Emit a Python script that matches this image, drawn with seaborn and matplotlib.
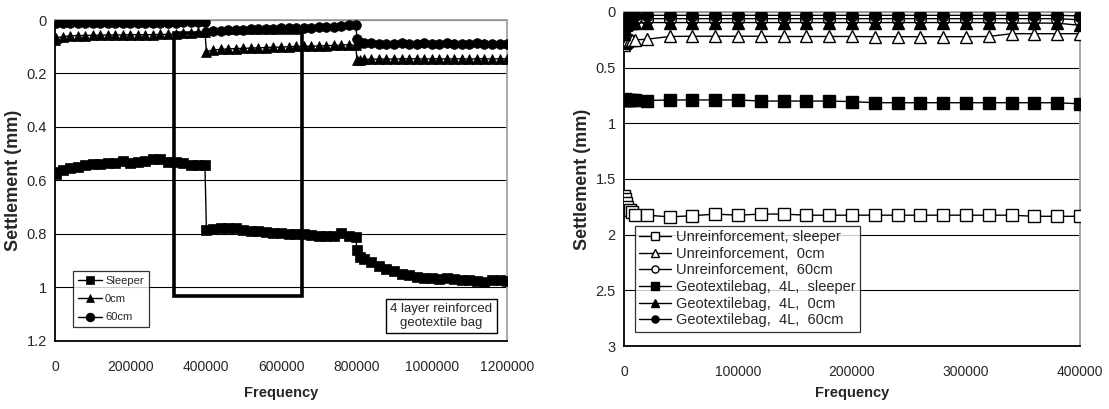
import numpy as np
import pandas as pd
import matplotlib
matplotlib.use("Agg")
import matplotlib.pyplot as plt
from matplotlib.patches import Rectangle
import seaborn as sns

# ---------------- left panel: 4 layer reinforced geotextile bag ----------------
freq_left = [
    0, 3000, 20000, 40000, 60000, 80000, 100000, 120000, 140000, 160000, 180000,
    200000, 220000, 240000, 260000, 280000, 300000, 320000, 340000, 360000, 380000, 398000,
    402000, 420000, 440000, 460000, 480000, 500000, 520000, 540000, 560000, 580000, 600000,
    620000, 640000, 660000, 680000, 700000, 720000, 740000, 760000, 780000, 798000,
    802000, 810000, 820000, 840000, 860000, 880000, 900000, 920000, 940000, 960000, 980000,
    1000000, 1020000, 1040000, 1060000, 1080000, 1100000, 1120000, 1140000, 1160000, 1180000, 1200000,
]
sleeper_left = [
    0.570, 0.575, 0.560, 0.552, 0.548, 0.543, 0.540, 0.537, 0.536, 0.534, 0.527,
    0.533, 0.530, 0.526, 0.521, 0.521, 0.529, 0.530, 0.533, 0.541, 0.542, 0.542,
    0.785, 0.782, 0.778, 0.777, 0.779, 0.785, 0.788, 0.790, 0.793, 0.796, 0.798,
    0.801, 0.801, 0.801, 0.804, 0.809, 0.806, 0.806, 0.797, 0.806, 0.812,
    0.860, 0.885, 0.895, 0.905, 0.918, 0.930, 0.938, 0.948, 0.955, 0.960, 0.963,
    0.966, 0.968, 0.966, 0.968, 0.972, 0.972, 0.977, 0.978, 0.972, 0.972, 0.977,
]
cm0_left = [
    0.075, 0.068, 0.062, 0.060, 0.058, 0.058, 0.057, 0.057, 0.056, 0.056, 0.056,
    0.055, 0.055, 0.055, 0.055, 0.054, 0.054, 0.052, 0.050, 0.048, 0.046, 0.045,
    0.118, 0.112, 0.110, 0.108, 0.107, 0.106, 0.105, 0.104, 0.103, 0.102, 0.101,
    0.100, 0.099, 0.099, 0.098, 0.097, 0.096, 0.095, 0.094, 0.092, 0.095,
    0.150, 0.148, 0.147, 0.147, 0.146, 0.146, 0.146, 0.145, 0.145, 0.145, 0.146,
    0.145, 0.145, 0.146, 0.145, 0.145, 0.146, 0.145, 0.145, 0.146, 0.145, 0.145,
]
cm60_left = [
    0.000, 0.010, 0.012, 0.012, 0.012, 0.012, 0.012, 0.012, 0.012, 0.012, 0.012,
    0.012, 0.012, 0.011, 0.011, 0.011, 0.010, 0.010, 0.008, 0.007, 0.006, 0.006,
    0.045, 0.042, 0.040, 0.038, 0.037, 0.036, 0.035, 0.034, 0.033, 0.032, 0.031,
    0.031, 0.030, 0.030, 0.029, 0.028, 0.027, 0.025, 0.022, 0.020, 0.018,
    0.070, 0.085, 0.087, 0.087, 0.088, 0.088, 0.088, 0.087, 0.088, 0.088, 0.087,
    0.088, 0.088, 0.087, 0.088, 0.088, 0.088, 0.087, 0.088, 0.088, 0.088, 0.088,
]
left_labels = ["Sleeper", "0cm", "60cm"]
left_yticks = [0, 0.2, 0.4, 0.6, 0.8, 1.0, 1.2]
left_yticklabels = ["0", "0.2", "0.4", "0.6", "0.8", "1", "1.2"]
left_xticks = [0, 200000, 400000, 600000, 800000, 1000000, 1200000]
left_note = "4 layer reinforced\ngeotextile bag"
# frequency / settlement window outlined on the left panel
window_freq = (316000, 656000)
window_settle = (0.05, 1.03)

# ---------------- right panel: unreinforced vs geotextile bag ----------------
freq_right = [
    0, 1000, 2000, 3000, 5000, 7000, 10000, 20000, 40000, 60000, 80000, 100000,
    120000, 140000, 160000, 180000, 200000, 220000, 240000, 260000, 280000, 300000,
    320000, 340000, 360000, 380000, 400000,
]
unr_sleeper = [
    1.65, 1.68, 1.72, 1.75, 1.78, 1.80, 1.82, 1.825, 1.84, 1.83, 1.815, 1.825,
    1.815, 1.815, 1.825, 1.825, 1.825, 1.825, 1.825, 1.825, 1.825, 1.825,
    1.825, 1.825, 1.835, 1.835, 1.835,
]
unr_0cm = [
    0.30, 0.28, 0.27, 0.26, 0.25, 0.25, 0.25, 0.245, 0.22, 0.218, 0.218, 0.218,
    0.218, 0.22, 0.22, 0.22, 0.22, 0.222, 0.222, 0.222, 0.222, 0.222,
    0.22, 0.195, 0.195, 0.195, 0.195,
]
unr_60cm = [
    0.10, 0.09, 0.08, 0.07, 0.065, 0.06, 0.06, 0.06, 0.06, 0.06, 0.06, 0.06,
    0.06, 0.06, 0.06, 0.06, 0.06, 0.06, 0.06, 0.06, 0.06, 0.06,
    0.06, 0.06, 0.06, 0.06, 0.07,
]
geo_sleeper = [
    0.79, 0.785, 0.79, 0.79, 0.79, 0.79, 0.79, 0.795, 0.79, 0.79, 0.79, 0.79,
    0.80, 0.80, 0.80, 0.80, 0.805, 0.815, 0.815, 0.815, 0.815, 0.815,
    0.815, 0.815, 0.815, 0.815, 0.825,
]
geo_0cm = [
    0.20, 0.15, 0.12, 0.11, 0.10, 0.10, 0.10, 0.095, 0.095, 0.095, 0.095, 0.095,
    0.095, 0.095, 0.095, 0.095, 0.095, 0.095, 0.095, 0.095, 0.095, 0.095,
    0.095, 0.10, 0.10, 0.10, 0.12,
]
geo_60cm = [
    0.00, 0.02, 0.03, 0.03, 0.03, 0.03, 0.03, 0.03, 0.03, 0.03, 0.03, 0.03,
    0.03, 0.03, 0.03, 0.03, 0.03, 0.03, 0.03, 0.03, 0.03, 0.03,
    0.03, 0.03, 0.03, 0.03, 0.035,
]
right_labels = [
    "Unreinforcement, sleeper", "Unreinforcement,  0cm", "Unreinforcement,  60cm",
    "Geotextilebag,  4L,  sleeper", "Geotextilebag,  4L,  0cm", "Geotextilebag,  4L,  60cm",
]
right_yticks = [0, 0.5, 1.0, 1.5, 2.0, 2.5, 3.0]
right_yticklabels = ["0", "0.5", "1", "1.5", "2", "2.5", "3"]
right_xticks = [0, 100000, 200000, 300000, 400000]

# ---------------- styling ----------------
sns.set_theme(style="white")
plt.rcParams["font.family"] = ["Liberation Sans", "DejaVu Sans"]
plt.rcParams["axes.unicode_minus"] = False

fig = plt.figure(figsize=(11.09, 4.09), dpi=100)
ax1 = fig.add_axes([0.0496, 0.1663, 0.4076, 0.7848])
ax2 = fig.add_axes([0.5627, 0.1540, 0.4111, 0.8167])

FRAME_GREY = "#a0a0a0"


def style_axes(ax, yticks, yticklabels, xticks, ylim, xlim, xlabelpad):
    ax.set_xlim(*xlim)
    ax.set_ylim(*ylim)
    ax.set_yticks(yticks)
    ax.set_yticklabels(yticklabels)
    ax.set_xticks(xticks)
    ax.set_xticklabels([str(t) for t in xticks])
    for y in yticks:
        ax.axhline(y, color="black", lw=0.8, zorder=0.5)
    for side in ("left", "bottom"):
        ax.spines[side].set_color("black")
        ax.spines[side].set_linewidth(1.3)
    for side in ("top", "right"):
        ax.spines[side].set_color(FRAME_GREY)
        ax.spines[side].set_linewidth(1.3)
        ax.spines[side].set_visible(True)
    ax.tick_params(axis="x", direction="in", length=4, width=1, color="black",
                   labelsize=10, pad=14)
    ax.tick_params(axis="y", length=0, labelsize=10.5, pad=6)
    ax.set_xlabel("Frequency", fontsize=10.5, fontweight="bold", labelpad=xlabelpad)
    ax.set_ylabel("Settlement (mm)", fontsize=13, fontweight="bold", labelpad=3)


# left panel series
left_df = pd.DataFrame({
    "freq": freq_left,
    left_labels[0]: sleeper_left,
    left_labels[1]: cm0_left,
    left_labels[2]: cm60_left,
})
left_markers = ["s", "^", "o"]
for label, mk in zip(left_labels, left_markers):
    sns.lineplot(data=left_df, x="freq", y=label, ax=ax1, color="black", lw=1,
                 marker=mk, markersize=7, markeredgewidth=0.5, markeredgecolor="black",
                 markerfacecolor="black", estimator=None, sort=False, label=label,
                 zorder=3)

style_axes(ax1, left_yticks, left_yticklabels, left_xticks, (1.2, 0), (0, 1200000), 8)
ax1.add_patch(Rectangle((window_freq[0], window_settle[0]),
                        window_freq[1] - window_freq[0],
                        window_settle[1] - window_settle[0],
                        fill=False, edgecolor="black", lw=2.6, zorder=4))
leg1 = ax1.legend(loc="lower left", bbox_to_anchor=(0.027, 0.025), fontsize=8,
                  frameon=True, fancybox=False, edgecolor="black", handlelength=2.2,
                  labelspacing=0.75, borderpad=0.45, handletextpad=0.25, markerscale=0.9)
leg1.get_frame().set_linewidth(0.9)
ax1.text(0.855, 0.078, left_note, transform=ax1.transAxes, ha="center", va="center",
         fontsize=9.5, linespacing=1.25, zorder=5,
         bbox=dict(boxstyle="square,pad=0.3", facecolor="white", edgecolor="black", lw=1))

# right panel series
right_series = [unr_sleeper, unr_0cm, unr_60cm, geo_sleeper, geo_0cm, geo_60cm]
right_markers = ["s", "^", "o", "s", "^", "o"]
right_faces = ["white", "white", "white", "black", "black", "black"]
right_df = pd.DataFrame({"freq": freq_right})
for label, vals in zip(right_labels, right_series):
    right_df[label] = vals
for label, mk, fc in zip(right_labels, right_markers, right_faces):
    sns.lineplot(data=right_df, x="freq", y=label, ax=ax2, color="black", lw=1,
                 marker=mk, markersize=8.5, markeredgewidth=1.0, markeredgecolor="black",
                 markerfacecolor=fc, estimator=None, sort=False, label=label, zorder=3)

style_axes(ax2, right_yticks, right_yticklabels, right_xticks, (3, 0), (0, 400000), 5)
leg2 = ax2.legend(loc="lower left", bbox_to_anchor=(0.008, 0.021), fontsize=10.5,
                  frameon=True, fancybox=False, edgecolor="black", handlelength=2.2,
                  labelspacing=0.18, borderpad=0.3, handletextpad=0.3, markerscale=0.6)
leg2.get_frame().set_linewidth(0.9)

fig.savefig("out.png", dpi=100)
